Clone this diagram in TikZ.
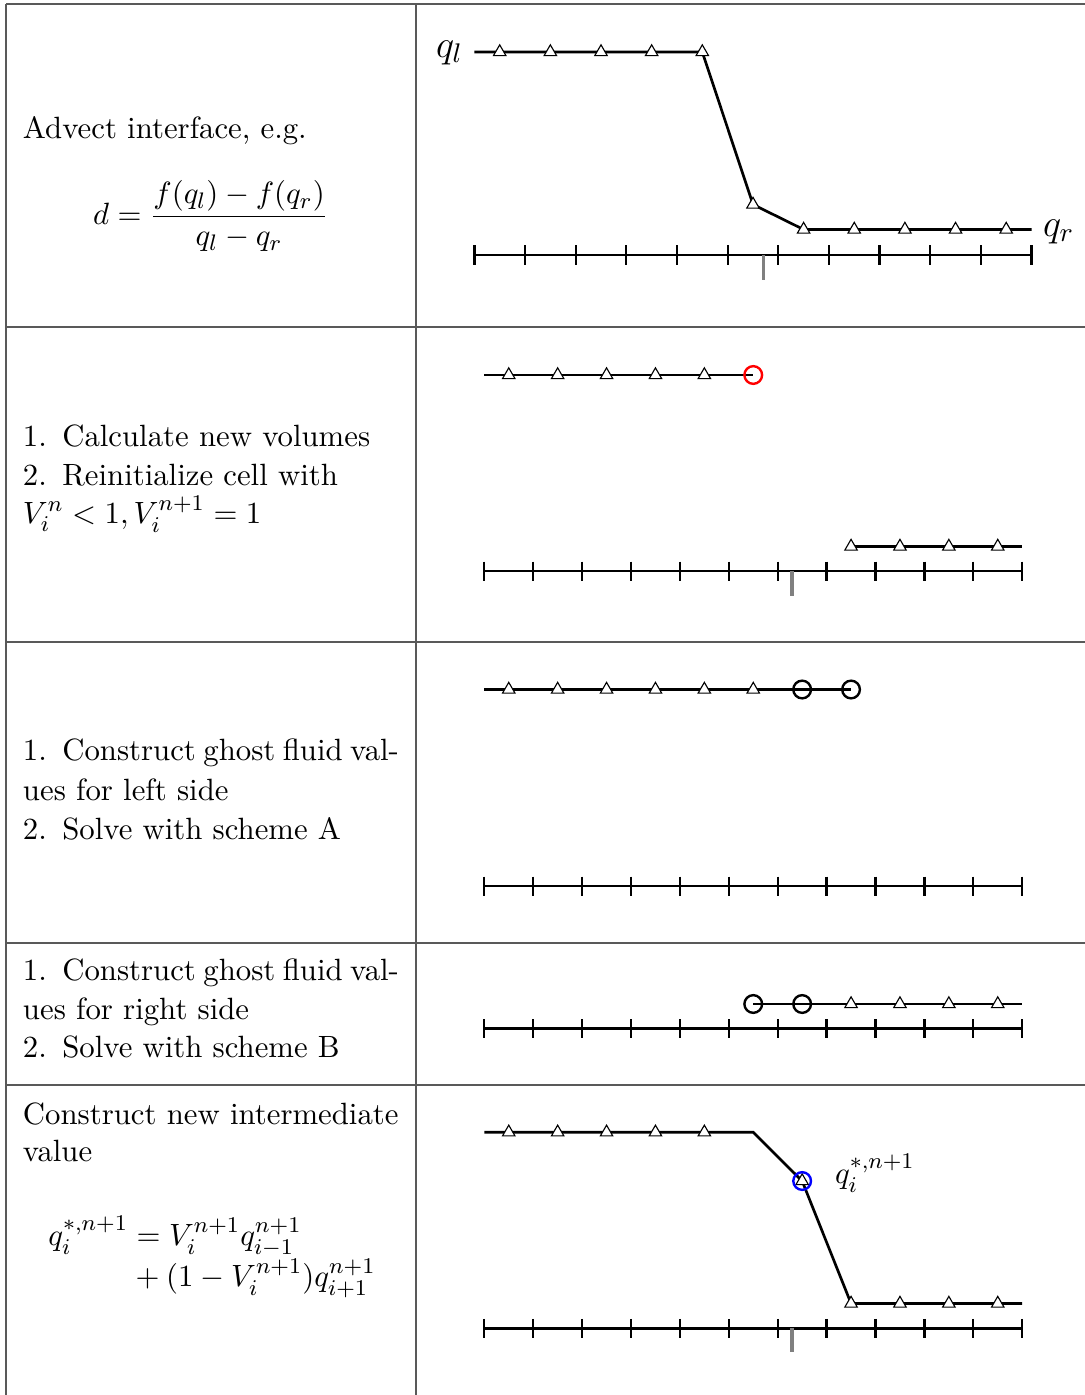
\documentclass[tikz,border=0pt]{standalone}
\usepackage{fix-cm}
\usepackage{amsmath}
\usetikzlibrary{shapes.geometric}
\begin{document}
\begin{tikzpicture}[x=0.3559pt,y=-0.3559pt,
  tbl/.style={draw=black!65, line width=0.45pt},
  txt/.style={anchor=base west, inner sep=0pt, outer sep=0pt, font=\fontsize{10.95}{13.6}\selectfont},
  biglbl/.style={anchor=base west, inner sep=0pt, outer sep=0pt, font=\fontsize{13.7}{16}\selectfont},
  curve/.style={line width=0.95pt, draw=black},
  axisline/.style={line width=0.95pt, draw=black},
  tickmark/.style={line width=0.8pt, draw=black},
  marker/.style={draw=black!50, line width=1.3pt},
  tri/.style={regular polygon, regular polygon sides=3, draw=black, fill=white, line width=0.4pt, minimum size=5.1pt, inner sep=0pt},
  ring/.style={circle, draw=#1, line width=0.85pt, minimum size=6.3pt, inner sep=0pt},
]
\useasboundingbox (0,0) rectangle (1085,1395);

% ---------- table grid ----------
\draw[tbl] (6,4) -- (1085,4);
\draw[tbl] (6,327) -- (1085,327);
\draw[tbl] (6,642) -- (1085,642);
\draw[tbl] (6,943) -- (1085,943);
\draw[tbl] (6,1085) -- (1085,1085);
\draw[tbl] (6,4) -- (6,1395);
\draw[tbl] (416,4) -- (416,1395);

% ---------- left column texts ----------
\node[txt] (t1a) at (23,138.3) {Advect interface, e.g.};
\node[txt] (t1b) at (93,224.4) {$\displaystyle d=\frac{f(q_l)-f(q_r)}{q_l-q_r}$};

\node[txt] (t2a) at (23,446.7) {1.\hspace{0.5em}Calculate new volumes};
\node[txt] (t2b) at (23,485) {2.\hspace{0.5em}Reinitialize cell with};
\node[txt] (t2c) at (23,523) {$V_i^n<1, V_i^{n+1}=1$};

\node[txt] (t3a) at (23,760.7) {\makebox[133.8pt][s]{1.\hspace{0.5em}Construct ghost fluid val-}};
\node[txt] (t3b) at (23,800) {ues for left side};
\node[txt] (t3c) at (23,839) {2.\hspace{0.5em}Solve with scheme A};

\node[txt] (t4a) at (23,980) {\makebox[133.8pt][s]{1.\hspace{0.5em}Construct ghost fluid val-}};
\node[txt] (t4b) at (23,1019) {ues for right side};
\node[txt] (t4c) at (23,1057.3) {2.\hspace{0.5em}Solve with scheme B};

\node[txt] (t5a) at (23,1124.3) {Construct new intermediate};
\node[txt] (t5b) at (23,1161.7) {value};
\node[txt] (t5c) at (48.3,1245) {$q_i^{*,n+1} = V_i^{n+1}q_{i-1}^{n+1}$};
\node[txt] (t5d) at (135.5,1286.7) {$+\mkern4mu(1-V_i^{n+1})q_{i+1}^{n+1}$};

% ---------- row 1 graph ----------
\coordinate (A1L) at (474.4,255);
\coordinate (A1R) at (1031.6,255);
\draw[axisline] (A1L) -- (A1R);
\foreach \i in {0,...,11} \draw[tickmark] ({474.4+50.65*\i},245) -- ({474.4+50.65*\i},265);
\coordinate (G1t) at (763.5,255);
\coordinate (G1b) at (763.5,280);
\draw[marker] (G1t) -- (G1b);
\coordinate (c1s) at (474.4,52);
\foreach \k in {0,...,4} \coordinate (c1p\k) at ({499.7+50.65*\k},52);
\coordinate (c1p5) at (753,204.5);
\foreach \k in {6,...,10} \coordinate (c1p\k) at ({499.7+50.65*\k},229.5);
\coordinate (c1e) at (1031.6,229.5);
\draw[curve] (c1s) -- (c1p4) -- (c1p5) -- (c1p6) -- (c1e);
\foreach \k in {0,...,10} \node[tri] (m1\k) at (c1p\k) {};
\node[biglbl] (ql) at (436,57) {$q_l$};
\node[biglbl] (qr) at (1043,236) {$q_r$};

% ---------- row 2 graph ----------
\coordinate (A2L) at (484.3,571);
\coordinate (A2R) at (1022.2,571);
\draw[axisline] (A2L) -- (A2R);
\foreach \i in {0,...,11} \draw[tickmark] ({484.3+48.9*\i},561.5) -- ({484.3+48.9*\i},580.5);
\coordinate (G2t) at (792.3,571);
\coordinate (G2b) at (792.3,596);
\draw[marker] (G2t) -- (G2b);
\coordinate (c2s) at (484.3,375);
\foreach \k in {0,...,5} \coordinate (c2p\k) at ({508.75+48.9*\k},375);
\draw[curve] (c2s) -- (c2p5);
\foreach \k in {7,...,10} \coordinate (c2q\k) at ({508.75+48.9*\k},546.5);
\coordinate (c2e) at (1022.2,546.5);
\draw[curve] (c2q7) -- (c2e);
\foreach \k in {0,...,4} \node[tri] (m2\k) at (c2p\k) {};
\foreach \k in {7,...,10} \node[tri] (n2\k) at (c2q\k) {};
\node[ring=red] (r2) at (c2p5) {};

% ---------- row 3 graph ----------
\coordinate (A3L) at (484.3,886);
\coordinate (A3R) at (1022.2,886);
\draw[axisline] (A3L) -- (A3R);
\foreach \i in {0,...,11} \draw[tickmark] ({484.3+48.9*\i},876.5) -- ({484.3+48.9*\i},895.5);
\coordinate (c3s) at (484.3,689.5);
\foreach \k in {0,...,7} \coordinate (c3p\k) at ({508.75+48.9*\k},689.5);
\draw[curve] (c3s) -- (c3p7);
\foreach \k in {0,...,5} \node[tri] (m3\k) at (c3p\k) {};
\node[ring=black] (r3a) at (c3p6) {};
\node[ring=black] (r3b) at (c3p7) {};

% ---------- row 4 graph ----------
\coordinate (A4L) at (484.3,1028.7);
\coordinate (A4R) at (1022.2,1028.7);
\draw[axisline] (A4L) -- (A4R);
\foreach \i in {0,...,11} \draw[tickmark] ({484.3+48.9*\i},1019.2) -- ({484.3+48.9*\i},1038.2);
\foreach \k in {5,...,10} \coordinate (c4p\k) at ({508.75+48.9*\k},1004);
\coordinate (c4e) at (1022.2,1004);
\draw[curve] (c4p5) -- (c4e);
\foreach \k in {7,...,10} \node[tri] (m4\k) at (c4p\k) {};
\node[ring=black] (r4a) at (c4p5) {};
\node[ring=black] (r4b) at (c4p6) {};

% ---------- row 5 graph ----------
\coordinate (A5L) at (484.3,1328.3);
\coordinate (A5R) at (1022.2,1328.3);
\draw[axisline] (A5L) -- (A5R);
\foreach \i in {0,...,11} \draw[tickmark] ({484.3+48.9*\i},1318.8) -- ({484.3+48.9*\i},1337.8);
\coordinate (G5t) at (792.3,1328.3);
\coordinate (G5b) at (792.3,1352);
\draw[marker] (G5t) -- (G5b);
\coordinate (c5s) at (484.3,1132.3);
\foreach \k in {0,...,5} \coordinate (c5p\k) at ({508.75+48.9*\k},1132.3);
\coordinate (c5p6) at (802.15,1181);
\foreach \k in {7,...,10} \coordinate (c5p\k) at ({508.75+48.9*\k},1303.5);
\coordinate (c5e) at (1022.2,1303.5);
\draw[curve] (c5s) -- (c5p5) -- (c5p6) -- (c5p7) -- (c5e);
\foreach \k in {0,...,4} \node[tri] (m5\k) at (c5p\k) {};
\foreach \k in {6,...,10} \node[tri] (m5\k) at (c5p\k) {};
\node[ring=blue] (r5) at (c5p6) {};
\node[txt] (qs) at (835,1183) {$q_i^{*,n+1}$};

\end{tikzpicture}
\end{document}
